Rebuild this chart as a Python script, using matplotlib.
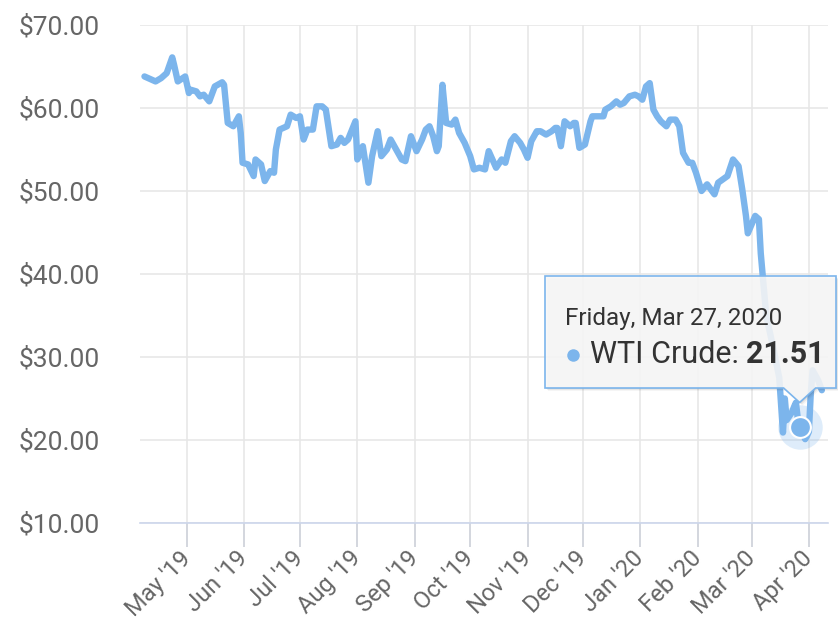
import matplotlib
matplotlib.use("Agg")
import matplotlib.pyplot as plt
import matplotlib.dates as mdates
import pandas as pd
from matplotlib.patches import Polygon
from matplotlib.transforms import IdentityTransform
from matplotlib.ticker import StrMethodFormatter

# WTI crude price (daily-ish samples)
dates = [
    "2019-04-08", "2019-04-11", "2019-04-14", "2019-04-17", "2019-04-20", "2019-04-23",
    "2019-04-24", "2019-04-26", "2019-04-30", "2019-05-02", "2019-05-03", "2019-05-06",
    "2019-05-08", "2019-05-10", "2019-05-13", "2019-05-16", "2019-05-20", "2019-05-21",
    "2019-05-23", "2019-05-26", "2019-05-29", "2019-05-30", "2019-05-31", "2019-06-03",
    "2019-06-06", "2019-06-07", "2019-06-10", "2019-06-12", "2019-06-15", "2019-06-17",
    "2019-06-18", "2019-06-20", "2019-06-24", "2019-06-26", "2019-06-29", "2019-07-01",
    "2019-07-03", "2019-07-05", "2019-07-08", "2019-07-10", "2019-07-13", "2019-07-15",
    "2019-07-18", "2019-07-21", "2019-07-23", "2019-07-25", "2019-07-27", "2019-07-31",
    "2019-08-01", "2019-08-04", "2019-08-07", "2019-08-09", "2019-08-12", "2019-08-14",
    "2019-08-17", "2019-08-19", "2019-08-22", "2019-08-25", "2019-08-27", "2019-08-30",
    "2019-09-02", "2019-09-05", "2019-09-07", "2019-09-09", "2019-09-11", "2019-09-13",
    "2019-09-14", "2019-09-16", "2019-09-18", "2019-09-21", "2019-09-23", "2019-09-25",
    "2019-09-28", "2019-10-01", "2019-10-03", "2019-10-06", "2019-10-09", "2019-10-11",
    "2019-10-13", "2019-10-15", "2019-10-18", "2019-10-20", "2019-10-23", "2019-10-25",
    "2019-10-28", "2019-10-30", "2019-11-01", "2019-11-03", "2019-11-06", "2019-11-08",
    "2019-11-11", "2019-11-14", "2019-11-16", "2019-11-17", "2019-11-19", "2019-11-21",
    "2019-11-24", "2019-11-26", "2019-11-27", "2019-11-29", "2019-12-02", "2019-12-05",
    "2019-12-06", "2019-12-09", "2019-12-12", "2019-12-13", "2019-12-16", "2019-12-19",
    "2019-12-21", "2019-12-23", "2019-12-26", "2019-12-29", "2019-12-31", "2020-01-02",
    "2020-01-04", "2020-01-06", "2020-01-08", "2020-01-10", "2020-01-12", "2020-01-15",
    "2020-01-17", "2020-01-20", "2020-01-22", "2020-01-24", "2020-01-27", "2020-01-29",
    "2020-01-31", "2020-02-03", "2020-02-06", "2020-02-10", "2020-02-12", "2020-02-17",
    "2020-02-20", "2020-02-23", "2020-02-25", "2020-02-27", "2020-02-28", "2020-03-03",
    "2020-03-05", "2020-03-06", "2020-03-09", "2020-03-11", "2020-03-13", "2020-03-16",
    "2020-03-18", "2020-03-19", "2020-03-20", "2020-03-23", "2020-03-24", "2020-03-25",
    "2020-03-26", "2020-03-27", "2020-03-30", "2020-03-31", "2020-04-01", "2020-04-02",
    "2020-04-03", "2020-04-06", "2020-04-08",
]
prices = [
    63.8, 63.5, 63.2, 63.6, 64.2, 66.1,
    65.2, 63.2, 63.8, 61.8, 62.2, 62.0,
    61.4, 61.6, 60.8, 62.6, 63.1, 62.8,
    58.2, 57.8, 59.0, 57.0, 53.4, 53.2,
    51.8, 53.8, 53.2, 51.2, 52.4, 52.2,
    55.0, 57.4, 57.8, 59.2, 58.8, 59.0,
    56.2, 57.4, 57.4, 60.2, 60.2, 59.8,
    55.4, 55.6, 56.4, 55.8, 56.2, 58.4,
    53.8, 55.4, 51.0, 54.2, 57.2, 54.2,
    55.0, 56.2, 55.0, 53.8, 53.6, 56.6,
    54.8, 56.2, 57.4, 57.8, 56.6, 54.8,
    55.4, 62.8, 58.2, 58.0, 58.6, 57.0,
    55.8, 54.2, 52.6, 52.8, 52.6, 54.8,
    53.8, 52.8, 53.8, 53.4, 56.0, 56.6,
    55.8, 55.0, 54.0, 56.0, 57.2, 57.2,
    56.8, 57.2, 57.6, 57.6, 55.4, 58.4,
    57.8, 58.2, 58.2, 55.2, 55.6, 58.4,
    59.0, 59.0, 59.0, 59.8, 60.2, 60.8,
    60.4, 60.6, 61.4, 61.6, 61.4, 61.0,
    62.6, 63.0, 59.8, 59.0, 58.4, 57.8,
    58.6, 58.6, 57.8, 54.6, 53.4, 53.4,
    52.2, 50.0, 50.8, 49.6, 51.0, 51.8,
    53.8, 53.0, 50.2, 47.0, 44.9, 47.0,
    46.6, 42.5, 34.9, 32.9, 30.8, 27.5,
    20.9, 25.0, 22.4, 23.4, 24.0, 24.5,
    22.6, 21.51, 20.1, 20.5, 21.0, 25.5,
    28.4, 27.2, 26.0,
]
series_name = "WTI Crude"
hover_date = "2020-03-27"
y_ticks = [10, 20, 30, 40, 50, 60, 70]

plt.rcParams["font.family"] = ["Roboto", "DejaVu Sans"]

blue = "#7cb5ec"
W, H = 838, 626
fig = plt.figure(figsize=(W / 100, H / 100), dpi=100)
ax = fig.add_axes([140 / W, 103 / H, 688 / W, 498 / H])

x = pd.to_datetime(dates)
ax.plot(x, prices, color=blue, lw=4.6, solid_joinstyle="round",
        solid_capstyle="round", zorder=3)

ax.set_ylim(y_ticks[0], y_ticks[-1])
ax.set_xlim(pd.Timestamp("2019-04-05 14:00"), pd.Timestamp("2020-04-11 08:00"))
ax.set_yticks(y_ticks)
ax.yaxis.set_major_formatter(StrMethodFormatter("${x:.2f}"))
ax.xaxis.set_major_locator(mdates.MonthLocator())
ax.xaxis.set_major_formatter(mdates.DateFormatter("%b '%y"))

ax.grid(True, color="#e6e6e6", lw=1.1)
ax.set_axisbelow(True)
for s in ["top", "left", "right"]:
    ax.spines[s].set_visible(False)
ax.spines["bottom"].set_color("#ccd6eb")
ax.spines["bottom"].set_linewidth(1.2)

ax.tick_params(axis="y", length=0, pad=29, labelsize=19, labelcolor="#666666")
ax.tick_params(axis="x", length=17, width=1.1, color="#c8ccd4", pad=6,
               labelsize=17, labelcolor="#666666")
fig.canvas.draw()
plt.setp(ax.get_xticklabels(), rotation=45, ha="right", va="center",
         rotation_mode="anchor")

# hovered point
hx = pd.Timestamp(hover_date)
hv = prices[dates.index(hover_date)]
ax.plot([hx], [hv], "o", ms=32, color=blue, alpha=0.25, mew=0, zorder=4)
ax.plot([hx], [hv], "o", ms=15, mfc=blue, mec="white", mew=1.5, zorder=5)

# tooltip (display pixels)
px, py = ax.transData.transform((mdates.date2num(hx), hv))
left, right, top, bottom = 545, 836, 350, 238
tip_y = py + 25
verts = [(left, bottom), (left, top), (right, top), (right, bottom),
         (px + 16, bottom), (px, tip_y), (px - 16, bottom)]
ident = IdentityTransform()
for off, a in [(3, 0.04), (2, 0.06), (1, 0.08)]:
    sh = Polygon([(vx + off, vy - off) for vx, vy in verts], closed=True,
                 transform=ident, facecolor="black", edgecolor="none",
                 alpha=a, zorder=10)
    fig.add_artist(sh)
box = Polygon(verts, closed=True, transform=ident, facecolor="#fafafa",
              edgecolor="none", alpha=0.88, zorder=11)
fig.add_artist(box)
fig.add_artist(Polygon(verts, closed=True, transform=ident, fill=False,
                       edgecolor=blue, lw=1.2, zorder=11))

fig.text(565, 301, hx.strftime("%A, %b %d, %Y"), transform=ident,
         fontsize=17.5, color="#333333", va="baseline", ha="left", zorder=12)
fig.add_artist(plt.Line2D([573], [271], marker="o", ms=9, color=blue,
                          mew=0, transform=ident, zorder=12))
t1 = fig.text(590, 263, series_name + ":", transform=ident, fontsize=22,
              color="#333333", va="baseline", ha="left", zorder=12)
fig.canvas.draw()
bb = t1.get_window_extent()
fig.text(bb.x1 + 7, 263, f"{hv:.2f}", transform=ident, fontsize=22,
         fontweight="bold", color="#333333", va="baseline", ha="left", zorder=12)

fig.savefig("out.png", dpi=100)
